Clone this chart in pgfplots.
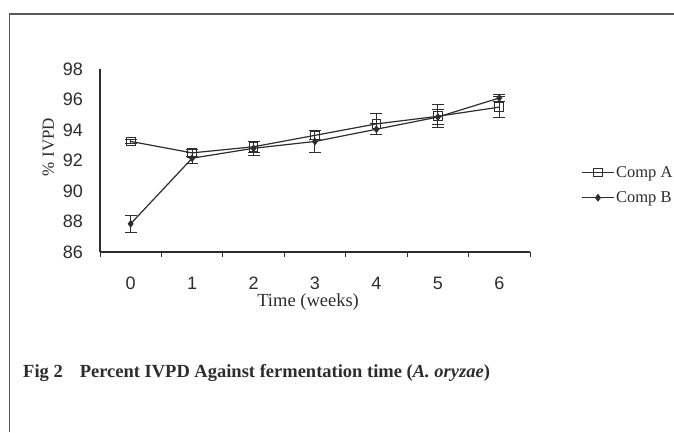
\documentclass[border=0pt]{standalone}
\usepackage{fontspec}
\setmainfont{Liberation Serif}
\newfontfamily\arial{Liberation Sans}
\usepackage{pgfplots}
\pgfplotsset{compat=1.18}
\definecolor{ink}{RGB}{45,45,45}
\begin{document}
\begin{tikzpicture}[x=1pt,y=1pt]
\useasboundingbox (0,0) rectangle (674,432);
\clip (0,0) rectangle (674,432);
\fill[white] (0,0) rectangle (674,432);
\draw[line width=1.3pt, black!65] (9.5,0) -- (9.5,418) -- (674,418);
\begin{axis}[
  at={(100pt,180pt)}, anchor=south west,
  scale only axis, width=430pt, height=183pt,
  xmin=-0.5, xmax=6.5, ymin=86, ymax=98,
  axis x line=bottom, axis y line=left,
  axis line style={-, line width=1.1pt, ink},
  xtick={0,...,6}, minor xtick={-0.5,0.5,...,6.5},
  ytick={86,88,...,98},
  major tick length=0pt, minor tick length=5pt,
  tick align=outside,
  minor tick style={line width=0.8pt, ink},
  /pgf/number format/assume math mode=true,
  tick label style={font=\arial\fontsize{18}{18}\selectfont, text=ink},
  yticklabel style={anchor=east, inner sep=0pt, xshift=-17pt},
  xticklabel style={anchor=north, inner sep=0pt, yshift=-25pt},
  xlabel={\fontsize{18.5}{18.5}\selectfont Time (weeks)},
  xlabel style={at={(axis description cs:0.484,0)}, anchor=center, yshift=-50pt, text=ink},
  ylabel={\fontsize{17}{17}\selectfont \% IVPD},
  ylabel style={at={(axis description cs:-0.12,0.574)}, anchor=center, text=ink},
  legend image code/.code={\draw[mark repeat=2,mark phase=2,#1] plot coordinates {(0pt,0pt) (16pt,0pt) (32pt,0pt)};},
  legend style={at={(axis description cs:1.119,0.366)}, anchor=west, draw=none, fill=none, inner sep=0pt,
    row sep=10pt, font=\fontsize{16.5}{16.5}\selectfont, text=ink, nodes={inner sep=1.5pt}},
  legend cell align=left,
  clip=false,
]
\addplot[ink, line width=1.2pt, mark=square, mark size=4.3pt, mark options={fill=white, line width=1pt},
  error bars/.cd, y dir=both, y explicit,
  error mark options={rotate=90, mark size=6pt, line width=1pt, ink},
  error bar style={line width=1pt, ink}]
  coordinates {
  (0,93.25) +- (0,0.15)
  (1,92.5) +- (0,0.25)
  (2,92.9) +- (0,0.35)
  (3,93.65) +- (0,0.3)
  (4,94.4) +- (0,0.7)
  (5,94.9) +- (0,0.75)
  (6,95.5) +- (0,0.7)
};
\addlegendentry{Comp A}
\addplot[ink, line width=1.2pt, mark=diamond*, mark size=3pt, mark options={fill=ink},
  error bars/.cd, y dir=both, y explicit,
  error mark options={rotate=90, mark size=6pt, line width=1pt, ink},
  error bar style={line width=1pt, ink}]
  coordinates {
  (0,87.85) +- (0,0.55)
  (1,92.15) +- (0,0.35)
  (2,92.8) +- (0,0.45)
  (3,93.25) +- (0,0.7)
  (4,94.05) +- (0,0.35)
  (5,94.85) +- (0,0.5)
  (6,96.1) +- (0,0.2)
};
\addlegendentry{Comp B}
\end{axis}
\node[anchor=west, inner sep=0pt, text=ink, font=\bfseries\fontsize{18.5}{18.5}\selectfont] at (23,59)
  {Fig 2\hspace{17pt}Percent IVPD Against fermentation time (\textit{A. oryzae})};
\end{tikzpicture}
\end{document}
